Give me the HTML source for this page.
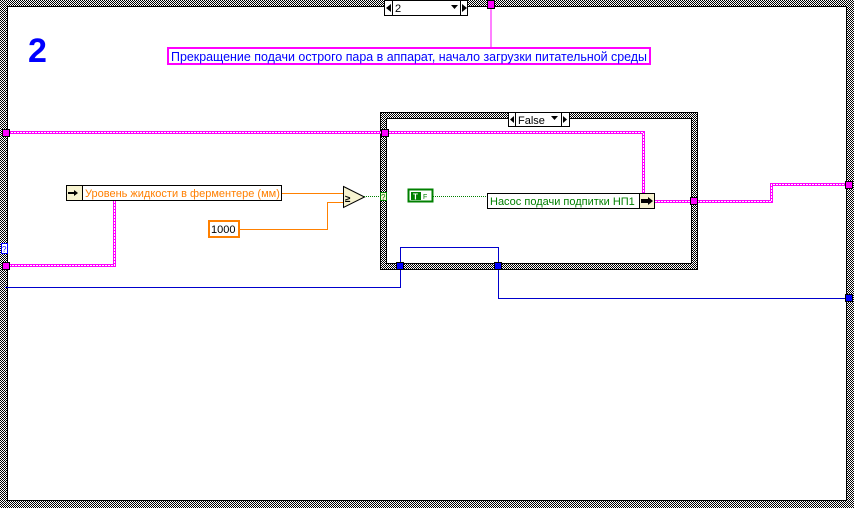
<!DOCTYPE html>
<html><head><meta charset="utf-8"><style>
html,body{margin:0;padding:0;background:#fff;width:854px;height:508px;overflow:hidden}
svg{display:block}
text{font-family:"Liberation Sans","DejaVu Sans",sans-serif}
</style></head><body>
<svg width="854" height="508" viewBox="0 0 854 508" xmlns="http://www.w3.org/2000/svg">
<defs>
<pattern id="ck" width="2" height="2" patternUnits="userSpaceOnUse">
<rect width="2" height="2" fill="#fff"/><rect width="1" height="1" fill="#000"/><rect x="1" y="1" width="1" height="1" fill="#000"/>
</pattern>
</defs>
<rect width="854" height="508" fill="#fff"/>
<path d="M0,0H854V508H0Z M7,6V501H847V6Z" fill="url(#ck)" fill-rule="evenodd"/>
<rect x="7.5" y="6.5" width="839" height="494" fill="none" stroke="#000" stroke-width="1"/>
<rect x="384.5" y="0.5" width="83" height="15" fill="#fff" stroke="#000"/>
<line x1="392.5" y1="0" x2="392.5" y2="15" stroke="#000"/>
<line x1="460.5" y1="0" x2="460.5" y2="15" stroke="#000"/>
<path d="M386,8 L391,4 V12Z" fill="#000"/>
<path d="M462,4 L467,8 L462,12Z" fill="#000"/>
<path d="M451,5 H458 L454.5,9Z" fill="#000"/>
<text x="395" y="12" font-size="11" fill="#000">2</text>
<text x="28" y="62" font-size="34" font-weight="bold" fill="#0000ff">2</text>
<line x1="491" y1="8" x2="491" y2="47" stroke="#ff00ff" stroke-width="1"/>
<rect x="487.5" y="0.5" width="7" height="8" fill="#ff00ff" stroke="#000"/>
<rect x="168" y="48" width="482" height="16" fill="#fff" stroke="#ff00ff" stroke-width="2"/>
<text x="171" y="61" font-size="12.5" fill="#0000ff" textLength="476" lengthAdjust="spacingAndGlyphs">Прекращение подачи острого пара в аппарат, начало загрузки питательной среды</text>
<path d="M380,112H698V270H380Z M386,118V264H692V118Z" fill="url(#ck)" fill-rule="evenodd"/>
<rect x="380.5" y="112.5" width="317" height="157" fill="none" stroke="#000"/>
<rect x="386.5" y="118.5" width="305" height="145" fill="none" stroke="#000"/>
<rect x="508.5" y="112.5" width="61" height="14" fill="#fff" stroke="#000"/>
<line x1="515.5" y1="112" x2="515.5" y2="127" stroke="#000"/>
<line x1="561.5" y1="112" x2="561.5" y2="127" stroke="#000"/>
<path d="M510,119.5 L514,116 V123Z" fill="#000"/>
<path d="M563,116 L567,119.5 L563,123Z" fill="#000"/>
<path d="M551,116 H558 L554.5,120Z" fill="#000"/>
<text x="518" y="124" font-size="11" fill="#000">False</text>
<g fill="none" stroke="#ff00ff" stroke-width="3">
<path d="M5,132.5H643.5V195"/>
<path d="M655,201.5H771.5V184.5H848"/>
<path d="M114.5,201V265.5H5"/>
</g>
<g fill="none" stroke="#fff" stroke-width="1" stroke-dasharray="2,1">
<path d="M5,132.5H643.5V195"/>
<path d="M655,201.5H771.5V184.5H848"/>
<path d="M114.5,201V265.5H5"/>
</g>
<rect x="2.5" y="129.5" width="7" height="7" fill="#ff00ff" stroke="#000"/>
<rect x="381.5" y="129.5" width="7" height="7" fill="#ff00ff" stroke="#000"/>
<rect x="690.5" y="197.5" width="7" height="7" fill="#ff00ff" stroke="#000"/>
<rect x="845.5" y="181.5" width="7" height="7" fill="#ff00ff" stroke="#000"/>
<rect x="2.5" y="262.5" width="7" height="7" fill="#ff00ff" stroke="#000"/>
<rect x="1.5" y="243.5" width="6" height="10" fill="#fff" stroke="#0000ff"/>
<text x="2" y="252" font-size="8" fill="#0000ff">?</text>
<g fill="none" stroke="#0000cc" stroke-width="1">
<path d="M5,287.5H400.5V247.5H498.5V298.5H848"/>
</g>
<rect x="396.5" y="262.5" width="7" height="7" fill="#0000ff" stroke="#000"/>
<rect x="494.5" y="262.5" width="7" height="7" fill="#0000ff" stroke="#000"/>
<rect x="845.5" y="294.5" width="7" height="7" fill="#0000ff" stroke="#000"/>
<rect x="66.5" y="185.5" width="215" height="15" fill="#fff" stroke="#000"/>
<rect x="67" y="186" width="15" height="14" fill="#f7f3d0"/>
<line x1="82.5" y1="186" x2="82.5" y2="200" stroke="#000"/>
<path d="M68,192H74V190L78,193L74,196V194H68Z" fill="#000"/>
<text x="85" y="197" font-size="11" fill="#ff7f00">Уровень жидкости в ферментере (мм)</text>
<g fill="none" stroke="#ff8000" stroke-width="1">
<path d="M282,193.5H343"/>
<path d="M239,229.5H327.5V202.5H343"/>
</g>
<rect x="209" y="221" width="30" height="16" fill="#fff" stroke="#ff8000" stroke-width="2"/>
<text x="211" y="233" font-size="11" fill="#000">1000</text>
<path d="M343.5,186.5L364.5,197L343.5,207.5Z" fill="#f7f3d0" stroke="#000"/>
<text x="345" y="202" font-size="10" font-weight="bold" fill="#000">≥</text>
<line x1="364" y1="196.5" x2="380" y2="196.5" stroke="#008000" stroke-dasharray="1,1"/>
<rect x="380.5" y="192.5" width="6" height="8" fill="#f7f3d0" stroke="#008000"/>
<text x="381" y="200" font-size="8" fill="#008000">?</text>
<rect x="408.5" y="189.5" width="24" height="12" fill="#fff" stroke="#008000" stroke-width="2"/>
<rect x="411" y="192" width="10" height="8" fill="#008000"/>
<text x="413" y="199.5" font-size="8" font-weight="bold" fill="#fff">T</text>
<text x="423" y="199" font-size="7" fill="#008000">F</text>
<line x1="433" y1="196.5" x2="487" y2="196.5" stroke="#008000" stroke-dasharray="1,1"/>
<rect x="487.5" y="193.5" width="167" height="15" fill="#fff" stroke="#000"/>
<rect x="640" y="194" width="14" height="14" fill="#f7f3d0"/>
<line x1="639.5" y1="194" x2="639.5" y2="208" stroke="#000"/>
<path d="M641,199H648V197L653,201L648,205V203H641Z" fill="#000"/>
<text x="490" y="205" font-size="11" fill="#008000">Насос подачи подпитки НП1</text>
</svg>
</body></html>
